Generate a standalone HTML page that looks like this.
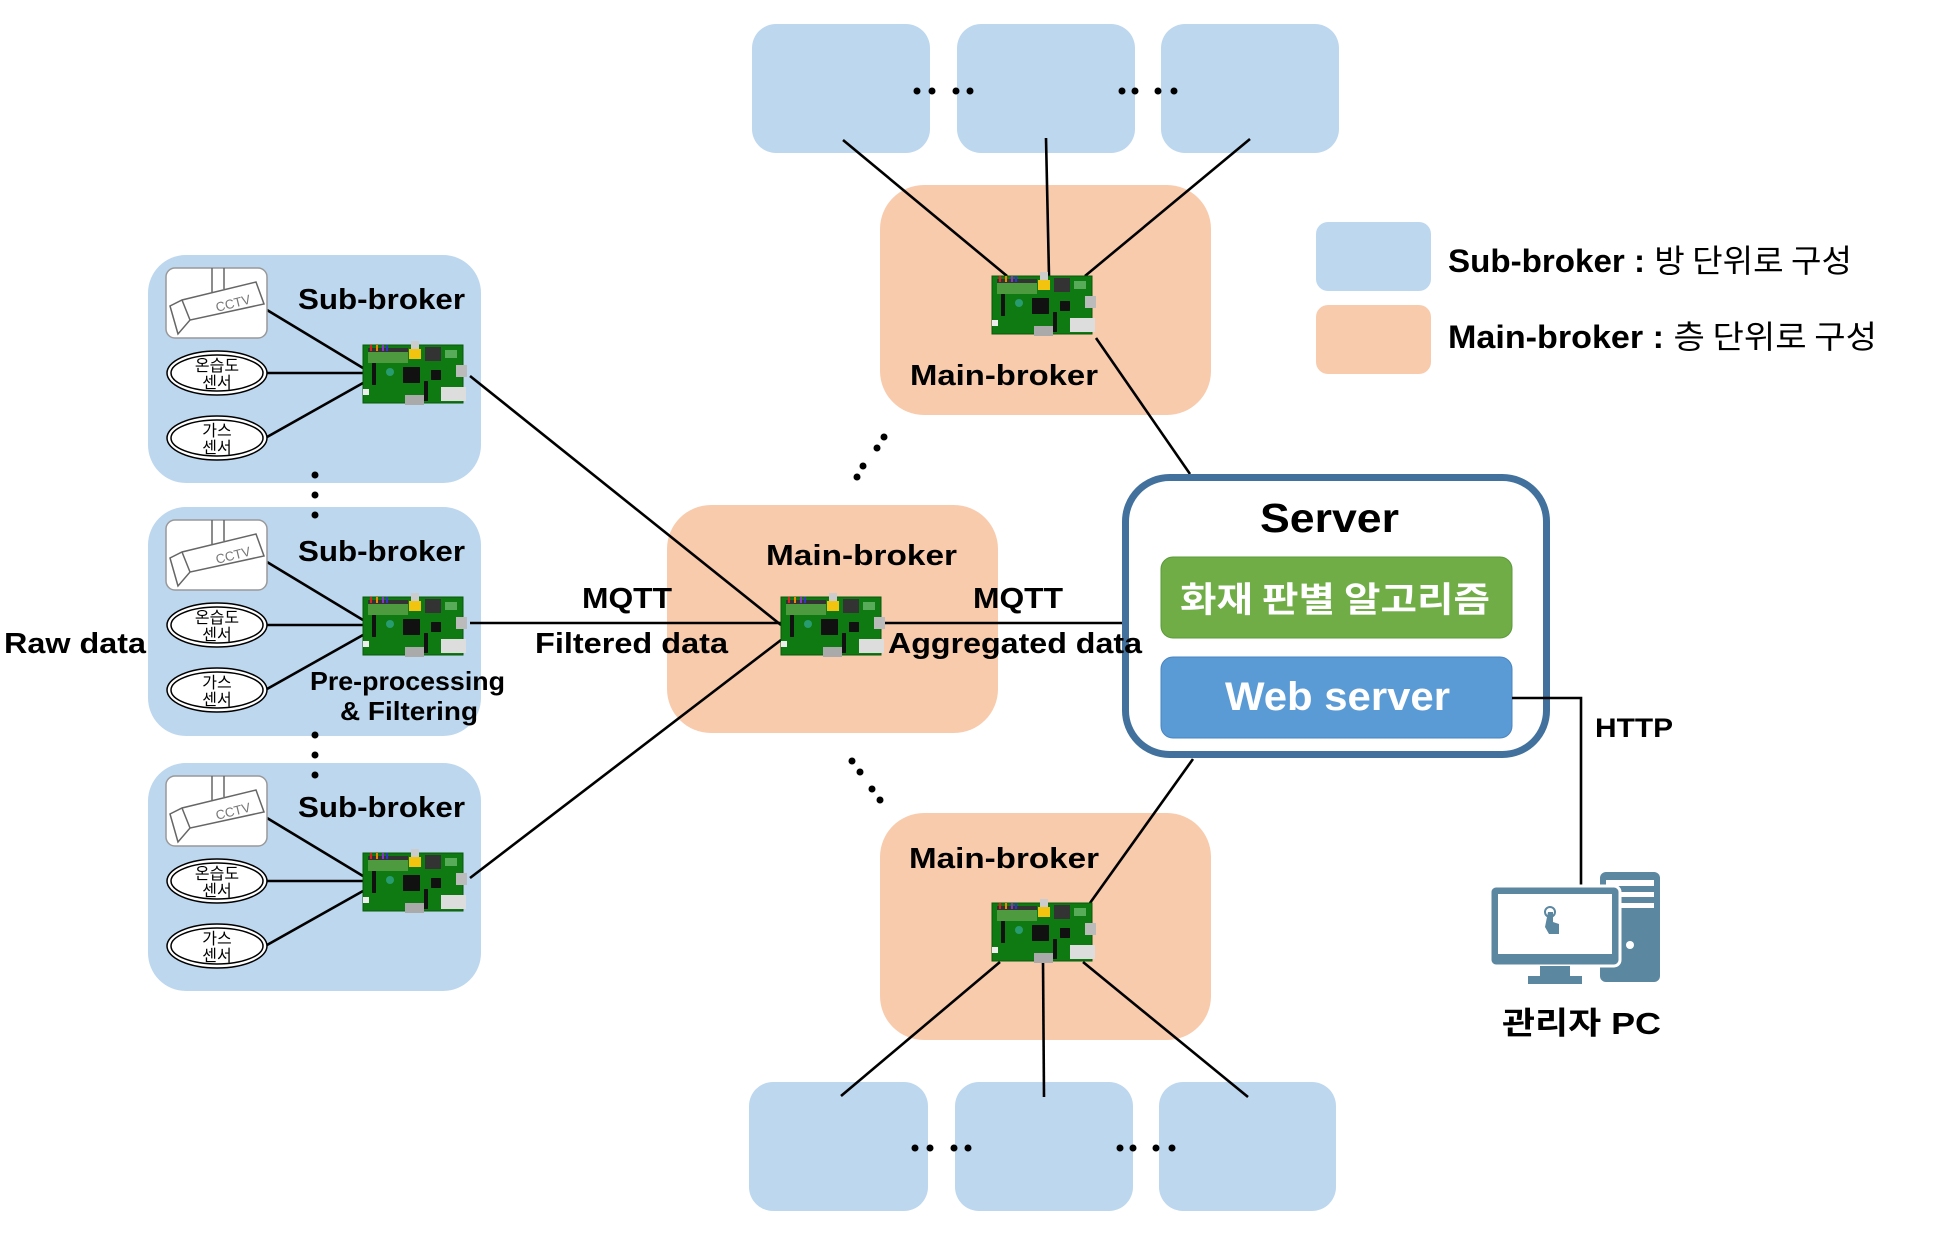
<!DOCTYPE html>
<html><head><meta charset="utf-8"><style>
html,body{margin:0;padding:0;background:#fff;}
svg{display:block;}
text{font-family:"Liberation Sans","Noto Sans CJK KR",sans-serif;font-weight:bold;fill:#000;}
.k{font-family:"Noto Sans CJK KR","Liberation Sans",sans-serif;}
.ln{stroke:#000;stroke-width:2.6;fill:none;}
</style></head><body>
<svg width="1941" height="1254" viewBox="0 0 1941 1254" xmlns="http://www.w3.org/2000/svg">
<defs>
<g id="pi">
 <rect x="0" y="0" width="100" height="58" fill="#0f7a12" stroke="#0a5a0a" stroke-width="1"/>
 <rect x="5" y="3" width="40" height="15" fill="#4e9a3e"/>
 <rect x="5" y="3" width="40" height="4" fill="#333"/>
 <rect x="7" y="0" width="2" height="6" fill="#d22"/>
 <rect x="13" y="0" width="2" height="6" fill="#e80"/>
 <rect x="19" y="0" width="2" height="6" fill="#83c"/>
 <rect x="23" y="0" width="2" height="6" fill="#33c"/>
 <rect x="48" y="-4" width="8" height="8" fill="#ccc"/>
 <rect x="46" y="4" width="12" height="10" fill="#f2c40f"/>
 <rect x="62" y="2" width="16" height="14" fill="#333"/>
 <rect x="82" y="5" width="12" height="8" fill="#8c8" opacity=".6"/>
 <rect x="40" y="22" width="17" height="16" fill="#111"/>
 <rect x="68" y="25" width="10" height="10" fill="#111"/>
 <rect x="9" y="18" width="4" height="22" fill="#111"/>
 <rect x="61" y="36" width="4" height="20" fill="#111"/>
 <rect x="93" y="20" width="11" height="12" fill="#bbb"/>
 <rect x="78" y="42" width="25" height="14" fill="#ddd"/>
 <rect x="42" y="50" width="19" height="10" fill="#aaa"/>
 <rect x="0" y="44" width="6" height="6" fill="#eee"/>
 <circle cx="27" cy="27" r="4" fill="#3a9" opacity=".7"/>
</g>
<g id="cctv">
 <rect x="0" y="0" width="101" height="70" rx="9" fill="#fff" stroke="#999" stroke-width="1.5"/>
 <path d="M12 66 L4 38 L16 32 L90 14 L98 36 L24 52 L12 66 Z M16 32 L24 52" fill="none" stroke="#666" stroke-width="1.5"/>
 <path d="M46 0 V24 M58 0 V21" stroke="#666" stroke-width="1.5"/>
 <text x="50" y="44" font-size="13" style="fill:#777;font-weight:normal" transform="rotate(-14 50 40)">CCTV</text>
</g>
</defs>

<rect x="752" y="24" width="178" height="129" rx="24" fill="#bdd7ee"/>
<rect x="957" y="24" width="178" height="129" rx="24" fill="#bdd7ee"/>
<rect x="1161" y="24" width="178" height="129" rx="24" fill="#bdd7ee"/>
<g fill="#000">
<circle cx="917" cy="91" r="3.5"/><circle cx="932" cy="91" r="3.5"/><circle cx="956" cy="91" r="3.5"/><circle cx="970" cy="91" r="3.5"/>
<circle cx="1122" cy="91" r="3.5"/><circle cx="1135" cy="91" r="3.5"/><circle cx="1158" cy="91" r="3.5"/><circle cx="1174" cy="91" r="3.5"/>
</g>
<rect x="749" y="1082" width="179" height="129" rx="24" fill="#bdd7ee"/>
<rect x="955" y="1082" width="178" height="129" rx="24" fill="#bdd7ee"/>
<rect x="1159" y="1082" width="177" height="129" rx="24" fill="#bdd7ee"/>
<g fill="#000">
<circle cx="915" cy="1148" r="3.5"/><circle cx="930" cy="1148" r="3.5"/><circle cx="954" cy="1148" r="3.5"/><circle cx="968" cy="1148" r="3.5"/>
<circle cx="1120" cy="1148" r="3.5"/><circle cx="1133" cy="1148" r="3.5"/><circle cx="1156" cy="1148" r="3.5"/><circle cx="1172" cy="1148" r="3.5"/>
</g>

<rect x="880" y="185" width="331" height="230" rx="44" fill="#f8cbad"/>
<rect x="667" y="505" width="331" height="228" rx="44" fill="#f8cbad"/>
<rect x="880" y="813" width="331" height="227" rx="44" fill="#f8cbad"/>

<rect x="148" y="255" width="333" height="228" rx="38" fill="#bdd7ee"/>
<rect x="148" y="507" width="333" height="229" rx="38" fill="#bdd7ee"/>
<rect x="148" y="763" width="333" height="228" rx="38" fill="#bdd7ee"/>

<rect x="1316" y="222" width="115" height="69" rx="12" fill="#bdd7ee"/>
<rect x="1316" y="305" width="115" height="69" rx="12" fill="#f8cbad"/>
<text x="1448" y="272" font-size="32" textLength="404" lengthAdjust="spacingAndGlyphs">Sub-broker : <tspan class="k" style="font-weight:normal">방 단위로 구성</tspan></text>
<text x="1448" y="348" font-size="32" textLength="429" lengthAdjust="spacingAndGlyphs">Main-broker : <tspan class="k" style="font-weight:normal">층 단위로 구성</tspan></text>

<g class="ln">
<line x1="843" y1="140" x2="1007" y2="276"/>
<line x1="1046" y1="138" x2="1049" y2="276"/>
<line x1="1250" y1="139" x2="1085" y2="276"/>
<line x1="1096" y1="338" x2="1190" y2="474"/>
<line x1="1000" y1="962" x2="841" y2="1096"/>
<line x1="1043" y1="960" x2="1044" y2="1097"/>
<line x1="1083" y1="962" x2="1248" y2="1097"/>
<line x1="1193" y1="759" x2="1090" y2="903"/>
<line x1="470" y1="376" x2="781" y2="625"/>
<line x1="470" y1="623" x2="781" y2="623"/>
<line x1="470" y1="878" x2="781" y2="640"/>
<line x1="883" y1="623" x2="1122" y2="623"/>
</g>

<g>
<g class="ln"><line x1="267" y1="310" x2="363" y2="368"/><line x1="267" y1="373" x2="363" y2="373"/><line x1="267" y1="437" x2="363" y2="383"/></g>
<use href="#cctv" x="166" y="268"/>
<ellipse cx="217" cy="373" rx="50" ry="22" fill="#fff" stroke="#000" stroke-width="1.5"/><ellipse cx="217" cy="373" rx="46" ry="18" fill="none" stroke="#000" stroke-width="1.5"/>
<ellipse cx="217" cy="438" rx="50" ry="22" fill="#fff" stroke="#000" stroke-width="1.5"/><ellipse cx="217" cy="438" rx="46" ry="18" fill="none" stroke="#000" stroke-width="1.5"/>
<use href="#pi" x="363" y="345"/>
</g>
<g transform="translate(0,252)">
<g class="ln"><line x1="267" y1="310" x2="363" y2="368"/><line x1="267" y1="373" x2="363" y2="373"/><line x1="267" y1="437" x2="363" y2="383"/></g>
<use href="#cctv" x="166" y="268"/>
<ellipse cx="217" cy="373" rx="50" ry="22" fill="#fff" stroke="#000" stroke-width="1.5"/><ellipse cx="217" cy="373" rx="46" ry="18" fill="none" stroke="#000" stroke-width="1.5"/>
<ellipse cx="217" cy="438" rx="50" ry="22" fill="#fff" stroke="#000" stroke-width="1.5"/><ellipse cx="217" cy="438" rx="46" ry="18" fill="none" stroke="#000" stroke-width="1.5"/>
<use href="#pi" x="363" y="345"/>
</g>
<g transform="translate(0,508)">
<g class="ln"><line x1="267" y1="310" x2="363" y2="368"/><line x1="267" y1="373" x2="363" y2="373"/><line x1="267" y1="437" x2="363" y2="383"/></g>
<use href="#cctv" x="166" y="268"/>
<ellipse cx="217" cy="373" rx="50" ry="22" fill="#fff" stroke="#000" stroke-width="1.5"/><ellipse cx="217" cy="373" rx="46" ry="18" fill="none" stroke="#000" stroke-width="1.5"/>
<ellipse cx="217" cy="438" rx="50" ry="22" fill="#fff" stroke="#000" stroke-width="1.5"/><ellipse cx="217" cy="438" rx="46" ry="18" fill="none" stroke="#000" stroke-width="1.5"/>
<use href="#pi" x="363" y="345"/>
</g>
<g font-size="16" text-anchor="middle">
<text x="217" y="371" class="k" style="font-weight:normal">온습도</text><text x="217" y="388" class="k" style="font-weight:normal">센서</text>
<text x="217" y="436" class="k" style="font-weight:normal">가스</text><text x="217" y="453" class="k" style="font-weight:normal">센서</text>
<text x="217" y="623" class="k" style="font-weight:normal">온습도</text><text x="217" y="640" class="k" style="font-weight:normal">센서</text>
<text x="217" y="688" class="k" style="font-weight:normal">가스</text><text x="217" y="705" class="k" style="font-weight:normal">센서</text>
<text x="217" y="879" class="k" style="font-weight:normal">온습도</text><text x="217" y="896" class="k" style="font-weight:normal">센서</text>
<text x="217" y="944" class="k" style="font-weight:normal">가스</text><text x="217" y="961" class="k" style="font-weight:normal">센서</text>
</g>

<use href="#pi" x="992" y="276"/>
<use href="#pi" x="781" y="597"/>
<use href="#pi" x="992" y="903"/>

<g fill="#000">
<circle cx="315" cy="475" r="3.5"/><circle cx="315" cy="495" r="3.5"/><circle cx="315" cy="515" r="3.5"/>
<circle cx="315" cy="735" r="3.5"/><circle cx="315" cy="755" r="3.5"/><circle cx="315" cy="775" r="3.5"/>
<circle cx="884" cy="437" r="3.5"/><circle cx="877" cy="448" r="3.5"/><circle cx="863" cy="466" r="3.5"/><circle cx="857" cy="477" r="3.5"/>
<circle cx="852" cy="761" r="3.5"/><circle cx="860" cy="772" r="3.5"/><circle cx="872" cy="789" r="3.5"/><circle cx="880" cy="800" r="3.5"/>
</g>

<rect x="1125.5" y="477.5" width="421" height="277" rx="44" fill="#fff" stroke="#41719c" stroke-width="7"/>
<rect x="1161" y="557" width="351" height="81" rx="12" fill="#70ad47" stroke="#5a9a3a" stroke-width="1"/>
<rect x="1161" y="657" width="351" height="81" rx="12" fill="#5b9bd5" stroke="#4a86c0" stroke-width="1"/>
<polyline class="ln" points="1512,698 1581,698 1581,885"/>
<text x="1260" y="532" font-size="41" textLength="139" lengthAdjust="spacingAndGlyphs">Server</text>
<text x="1180" y="612" font-size="35" class="k" style="fill:#fff" textLength="310" lengthAdjust="spacingAndGlyphs">화재 판별 알고리즘</text>
<text x="1225" y="710" font-size="40" style="fill:#fff" textLength="225" lengthAdjust="spacingAndGlyphs">Web server</text>

<g font-size="29">
<text x="298" y="309" textLength="167" lengthAdjust="spacingAndGlyphs">Sub-broker</text>
<text x="298" y="561" textLength="167" lengthAdjust="spacingAndGlyphs">Sub-broker</text>
<text x="298" y="817" textLength="167" lengthAdjust="spacingAndGlyphs">Sub-broker</text>
<text x="910" y="385" textLength="188" lengthAdjust="spacingAndGlyphs">Main-broker</text>
<text x="766" y="565" textLength="191" lengthAdjust="spacingAndGlyphs">Main-broker</text>
<text x="909" y="868" textLength="190" lengthAdjust="spacingAndGlyphs">Main-broker</text>
<text x="582" y="608" textLength="90" lengthAdjust="spacingAndGlyphs">MQTT</text>
<text x="973" y="608" textLength="90" lengthAdjust="spacingAndGlyphs">MQTT</text>
<text x="535" y="653" textLength="193" lengthAdjust="spacingAndGlyphs">Filtered data</text>
<text x="888" y="653" textLength="254" lengthAdjust="spacingAndGlyphs">Aggregated data</text>
<text x="4" y="653" textLength="142" lengthAdjust="spacingAndGlyphs">Raw data</text>
<text x="310" y="690" font-size="26" textLength="195" lengthAdjust="spacingAndGlyphs">Pre-processing</text>
<text x="340" y="720" font-size="26" textLength="138" lengthAdjust="spacingAndGlyphs">&amp; Filtering</text>
<text x="1595" y="737" font-size="27" textLength="78" lengthAdjust="spacingAndGlyphs">HTTP</text>
<text x="1502" y="1034" font-size="31" textLength="159" lengthAdjust="spacingAndGlyphs">관리자 PC</text>
</g>

<g fill="#5b87a0">
<rect x="1600" y="872" width="60" height="110" rx="6"/>
<rect x="1606" y="880" width="48" height="6" fill="#fff"/>
<rect x="1606" y="892" width="48" height="5" fill="#fff"/>
<rect x="1606" y="903" width="48" height="5" fill="#fff"/>
<circle cx="1630" cy="945" r="4" fill="#fff"/>
<rect x="1490" y="886" width="130" height="80" rx="6" stroke="#fff" stroke-width="3"/>
<rect x="1498" y="894" width="114" height="60" fill="#fff"/>
<rect x="1540" y="966" width="30" height="10"/>
<rect x="1528" y="976" width="54" height="8"/>
<circle cx="1550" cy="912" r="5" fill="none" stroke="#5b87a0" stroke-width="2"/>
<path d="M1548 912 h5 v10 l6 2 v10 h-10 l-4 -7 z"/>
</g>
</svg>
</body></html>
